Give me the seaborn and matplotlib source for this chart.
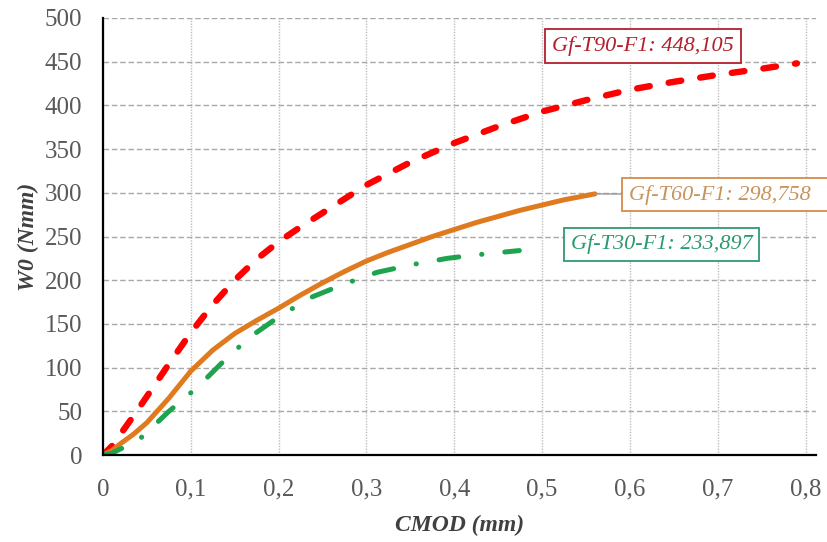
import numpy as np
import pandas as pd
import seaborn as sns
import matplotlib.pyplot as plt
from matplotlib.ticker import MultipleLocator, FuncFormatter

# values: CMOD (mm) vs W0 (Nmm)
cmod_t90 = [0.0, 0.01, 0.02, 0.035, 0.05, 0.075, 0.1, 0.125, 0.15, 0.175, 0.2, 0.225, 0.25, 0.275,
            0.3, 0.325, 0.35, 0.375, 0.4, 0.45, 0.5, 0.55, 0.6, 0.65, 0.7, 0.75, 0.79]
w0_t90 = [0, 10, 24, 45, 67, 104, 140, 172, 200, 224, 244, 261, 277, 293,
          309, 322, 335, 346, 357, 376, 393, 406, 418, 427, 435, 442, 448.105]

cmod_t60 = [0.0, 0.01, 0.02, 0.035, 0.05, 0.075, 0.1, 0.125, 0.15, 0.175, 0.2, 0.225, 0.25, 0.275,
            0.3, 0.325, 0.35, 0.375, 0.4, 0.425, 0.45, 0.475, 0.5, 0.525, 0.56]
w0_t60 = [0, 5, 13, 24, 37, 65, 96, 120, 139, 154, 168, 183, 197, 210,
          222, 232, 241, 250, 258, 266, 273, 280, 286, 292, 298.758]

cmod_t30 = [0.0, 0.01, 0.02, 0.035, 0.046, 0.074, 0.108, 0.136, 0.166, 0.2, 0.236, 0.273,
            0.312, 0.353, 0.392, 0.425, 0.474]
w0_t30 = [0, 2, 7, 13, 22, 49, 78, 106, 134, 158, 180, 195,
          209, 218, 225, 229, 233.897]

labels = ["Gf-T90-F1: 448,105", "Gf-T60-F1: 298,758", "Gf-T30-F1: 233,897"]

df90 = pd.DataFrame({"CMOD": cmod_t90, "W0": w0_t90})
df60 = pd.DataFrame({"CMOD": cmod_t60, "W0": w0_t60})
df30 = pd.DataFrame({"CMOD": cmod_t30, "W0": w0_t30})

sns.set_style("white")
plt.rcParams["font.family"] = ["Liberation Serif", "DejaVu Serif"]

fig = plt.figure(figsize=(8.27, 5.42), dpi=100)
ax = fig.add_axes([0.1245, 0.1605, 0.987 - 0.1245, 0.9668 - 0.1605])

sns.lineplot(data=df90, x="CMOD", y="W0", ax=ax, color="#ff0000", linewidth=4.6, sort=False)
ax.lines[-1].set_dashes((2.0, 3.0))
ax.lines[-1].set_dash_capstyle("round")
sns.lineplot(data=df60, x="CMOD", y="W0", ax=ax, color="#e07a1f", linewidth=3.6, sort=False)
ax.lines[-1].set_solid_joinstyle("round")
sns.lineplot(data=df30, x="CMOD", y="W0", ax=ax, color="#1ea34f", linewidth=3.6, sort=False)
ax.lines[-1].set_dashes((4.0, 4.6, 0.05, 4.6))
ax.lines[-1].set_dash_capstyle("round")

ax.set_xlim(0, 0.812)
ax.set_ylim(0, 500)
ax.xaxis.set_major_locator(MultipleLocator(0.1))
ax.xaxis.set_minor_locator(MultipleLocator(0.02))
ax.yaxis.set_major_locator(MultipleLocator(50))
ax.yaxis.set_minor_locator(MultipleLocator(5))
ax.xaxis.set_major_formatter(FuncFormatter(lambda v, p: "0" if abs(v) < 1e-9 else f"{v:.1f}".replace(".", ",")))

ax.grid(True, axis="y", which="major", color="#a8a8a8", linestyle=(0, (4, 2)), linewidth=1.0)
ax.grid(True, axis="x", which="major", color="#bdbdbd", linestyle=(0, (1, 1)), linewidth=1.0)
ax.set_axisbelow(True)

for s in ["top", "right"]:
    ax.spines[s].set_visible(False)
for s in ["left", "bottom"]:
    ax.spines[s].set_color("black")
    ax.spines[s].set_linewidth(1.6)

ax.tick_params(axis="both", which="major", direction="in", length=7, width=1.4, color="black",
               labelsize=18, labelcolor="#595959")
ax.tick_params(axis="both", which="minor", direction="in", length=4, width=1.2, color="black")
ax.tick_params(axis="x", which="major", pad=17)
ax.tick_params(axis="y", which="major", pad=15)

ax.set_xlabel("CMOD (mm)", fontsize=17, fontweight="bold", fontstyle="italic", color="#404040", labelpad=10)
ax.set_ylabel("W0 (Nmm)", fontsize=17, fontweight="bold", fontstyle="italic", color="#404040", labelpad=4)

ax.text(0.6148, 468, labels[0], fontsize=16, fontstyle="italic", color="#b3202d",
        ha="center", va="center",
        bbox=dict(boxstyle="square,pad=0.3", fc="white", ec="#b3202d", lw=1.3))
ax.annotate(labels[1] + "  ", xy=(cmod_t60[-1], w0_t60[-1]), xytext=(0.599, 298),
            fontsize=16, fontstyle="italic", color="#c9935c", ha="left", va="center",
            arrowprops=dict(arrowstyle="-", color="#9a9a9a", lw=1.0, shrinkA=0, shrinkB=0),
            bbox=dict(boxstyle="square,pad=0.3", fc="white", ec="#d48c48", lw=1.3),
            annotation_clip=False)
ax.text(0.636, 241, labels[2], fontsize=16, fontstyle="italic", color="#2a9a6e",
        ha="center", va="center",
        bbox=dict(boxstyle="square,pad=0.3", fc="white", ec="#2f9a6e", lw=1.3))

fig.savefig("out.png", dpi=100)
